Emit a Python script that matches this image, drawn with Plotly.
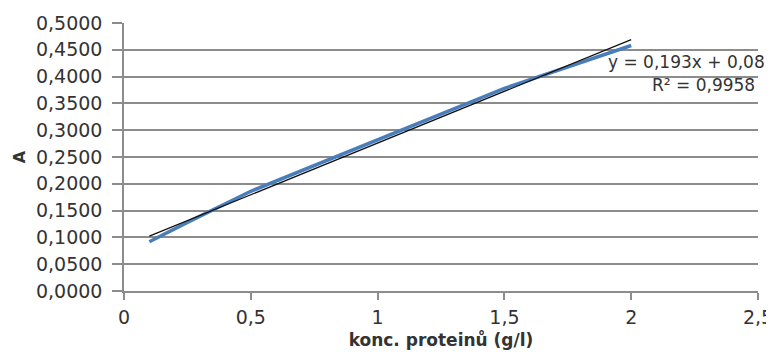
import plotly.graph_objects as go

# Data
konc = [0.1, 0.25, 0.5, 1.0, 1.5, 2.0]
absorbance = [0.092, 0.128, 0.186, 0.282, 0.378, 0.458]

# Linear trendline shown in the chart
trend_slope = 0.193
trend_intercept = 0.083
trend_x = [konc[0], konc[-1]]
trend_y = [trend_slope * v + trend_intercept for v in trend_x]

y_ticks = [0.0, 0.05, 0.1, 0.15, 0.2, 0.25, 0.3, 0.35, 0.4, 0.45, 0.5]
y_labels = [f"{v:.4f}".replace(".", ",") for v in y_ticks]
x_ticks = [0, 0.5, 1, 1.5, 2, 2.5]
x_labels = ["0", "0,5", "1", "1,5", "2", "2,5"]

FONT = "DejaVu Sans"
TXT = "#333333"
GRID = "#8c8c8c"

# page has an 8px body margin; figure sized so it ends at the window edge
OFF = 8
W, H = 774 - OFF, 361 - OFF
L, R, T, B = 124 - OFF, 16, 23 - OFF, 70
pw, ph = W - L - R, H - T - B


def px_to_paper(x, y):
    return (x - OFF - L) / pw, (H - B - (y - OFF)) / ph


fig = go.Figure()
fig.add_trace(go.Scatter(x=konc, y=absorbance, mode="lines",
                         line=dict(color="#4a7ebb", width=3.5), showlegend=False))
fig.add_trace(go.Scatter(x=trend_x, y=trend_y, mode="lines",
                         line=dict(color="#111111", width=1.3), showlegend=False))

ex, ey = px_to_paper(606, 62)
rx, ry = px_to_paper(757, 85)

fig.update_layout(
    width=W, height=H,
    margin=dict(l=L, r=R, t=T, b=B),
    paper_bgcolor="white", plot_bgcolor="white",
    font=dict(family=FONT, color=TXT, size=19),
    xaxis=dict(range=[0, 2.5], tickvals=x_ticks, ticktext=x_labels, automargin=False,
               showgrid=False, zeroline=False, showline=True, linecolor=GRID, linewidth=1.5,
               ticks="outside", ticklen=7, tickcolor=GRID, tickwidth=1.5,
               ticklabelstandoff=1,
               tickfont=dict(family=FONT, size=19, color=TXT),
               title=dict(text="<b>konc. proteinů (g/l)</b>", font=dict(family=FONT, size=17, color=TXT),
                          standoff=8)),
    yaxis=dict(range=[0, 0.5], tickvals=y_ticks, ticktext=y_labels, automargin=False,
               showgrid=True, gridcolor=GRID, gridwidth=1.5, zeroline=False,
               showline=True, linecolor=GRID, linewidth=1.5,
               ticks="outside", ticklen=10, tickcolor=GRID, tickwidth=1.5,
               ticklabelstandoff=6,
               tickfont=dict(family=FONT, size=19, color=TXT),
               title=dict(text="<b>A</b>", font=dict(family=FONT, size=16, color=TXT), standoff=6)),
    annotations=[
        dict(x=ex, y=ey, xref="paper", yref="paper", text="y = 0,193x + 0,08", showarrow=False,
             xanchor="left", yanchor="middle", font=dict(family=FONT, size=17, color=TXT)),
        dict(x=rx, y=ry, xref="paper", yref="paper", text="R² = 0,9958", showarrow=False,
             xanchor="right", yanchor="middle", font=dict(family=FONT, size=17, color=TXT)),
    ],
)

fig.write_html("out.html")
